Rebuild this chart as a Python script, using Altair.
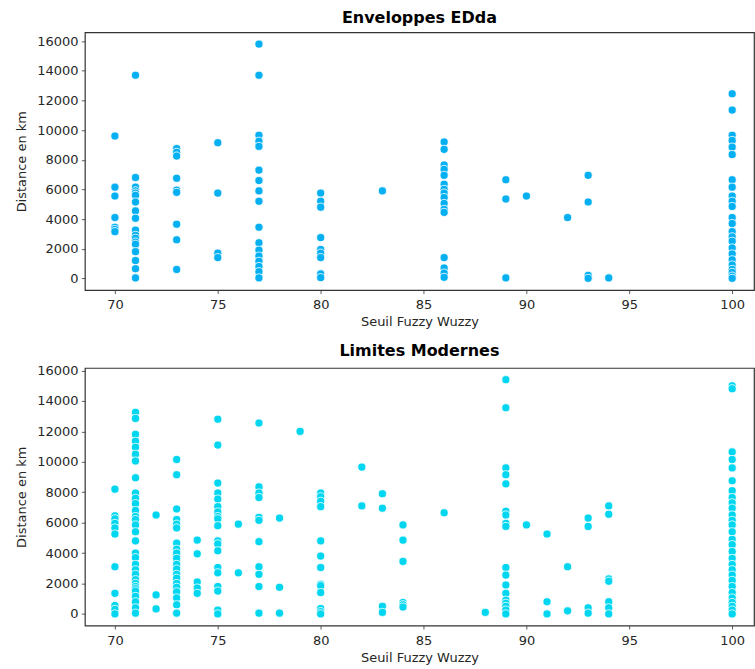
import altair as alt
import pandas as pd

FONT = "DejaVu Sans"
TEXT = "#262626"

# ---- Enveloppes EDda : distances (km) per Fuzzy Wuzzy threshold ----
edda_70 = [9600, 6150, 5550, 4100, 3450, 3300, 3150]
edda_71 = [13700, 6800, 6150, 5900, 5750, 5600, 5150, 4550, 4050, 3250, 2900, 2700,
           2450, 2300, 1800, 1200, 650, 30]
edda_73 = [8750, 8500, 8250, 6750, 5950, 5800, 3650, 2600, 600]
edda_75 = [9150, 5750, 1700, 1400]
edda_77 = [15800, 13700, 9650, 9250, 8900, 7300, 6600, 5900, 5200, 3450, 2400, 1900,
           1500, 1150, 800, 450, 30]
edda_80 = [5750, 5200, 4800, 2750, 1950, 1700, 1400, 300, 50]
edda_83 = [5900]
edda_86 = [9200, 8700, 7650, 7350, 6950, 6350, 6000, 5750, 5450, 5050, 4650, 4450,
           1400, 700, 350, 70]
edda_89 = [6650, 5350, 30]
edda_90 = [5550]
edda_92 = [4100]
edda_93 = [6950, 5150, 200, 0]
edda_94 = [30]
edda_100 = [12450, 11350, 9650, 9300, 8850, 8350, 6650, 6150, 5550, 5200, 4850, 4100,
            3700, 3150, 2800, 2500, 2050, 1650, 1250, 900, 600, 400, 150, 0]

# ---- Limites Modernes ----
mod_70 = [8200, 6450, 6250, 5950, 5650, 5250, 3100, 1350, 550, 300, 0]
mod_71 = [13250, 12850, 11800, 11350, 10950, 10500, 10050, 8950, 7950, 7600, 7250,
          6800, 6400, 6200, 5850, 5400, 4800, 4000, 3700, 3250, 2900, 2600, 2250,
          2000, 1800, 1650, 1500, 1150, 800, 400, 50]
mod_72 = [6500, 1250, 330]
mod_73 = [10150, 9150, 6900, 6200, 5900, 5650, 4650, 4250, 4000, 3650, 3250, 2950,
          2600, 2350, 2000, 1750, 1450, 1050, 600, 50]
mod_74 = [4850, 3950, 2100, 1700, 1350]
mod_75 = [12800, 11100, 8600, 7950, 7550, 7050, 6700, 6400, 6250, 5800, 4800, 4600,
          4150, 3050, 2700, 1800, 1500, 250, 0]
mod_76 = [5900, 2700]
mod_77 = [12550, 8350, 7950, 7650, 6350, 6150, 4750, 3100, 2600, 1800, 50]
mod_78 = [6300, 1750, 50]
mod_79 = [12000]
mod_80 = [7950, 7700, 7400, 7050, 4800, 3800, 3050, 1950, 1850, 1400, 350, 150, 0]
mod_82 = [9650, 7100]
mod_83 = [7900, 6950, 500, 100]
mod_84 = [5850, 4850, 3450, 750, 600, 450]
mod_86 = [6650]
mod_88 = [100]
mod_89 = [15400, 13550, 9600, 9150, 8550, 6750, 6500, 5950, 5750, 3050, 2550, 1900,
          1350, 900, 700, 500, 250, 0]
mod_90 = [5850]
mod_91 = [5250, 800, 0]
mod_92 = [3100, 200]
mod_93 = [6300, 5750, 400, 50]
mod_94 = [7100, 6550, 2300, 2150, 800, 400, 0]
mod_100 = [15000, 14800, 10650, 10150, 9600, 8750, 8100, 7650, 7300, 6950, 6500, 6150,
           5850, 5400, 4900, 4550, 4100, 3650, 3250, 2900, 2550, 2200, 1800, 1400,
           1050, 750, 500, 250, 0]

x_ticks = [70, 75, 80, 85, 90, 95, 100]
y_ticks = [0, 2000, 4000, 6000, 8000, 10000, 12000, 14000, 16000]

edda_cols = {70: edda_70, 71: edda_71, 73: edda_73, 75: edda_75, 77: edda_77,
             80: edda_80, 83: edda_83, 86: edda_86, 89: edda_89, 90: edda_90,
             92: edda_92, 93: edda_93, 94: edda_94, 100: edda_100}
mod_cols = {70: mod_70, 71: mod_71, 72: mod_72, 73: mod_73, 74: mod_74, 75: mod_75,
            76: mod_76, 77: mod_77, 78: mod_78, 79: mod_79, 80: mod_80, 82: mod_82,
            83: mod_83, 84: mod_84, 86: mod_86, 88: mod_88, 89: mod_89, 90: mod_90,
            91: mod_91, 92: mod_92, 93: mod_93, 94: mod_94, 100: mod_100}


def to_df(cols):
    rows = [{"seuil": k, "distance": v} for k, vals in cols.items() for v in vals]
    return pd.DataFrame(rows)


def panel(df, title, color, ydom):
    return alt.Chart(df).mark_circle(
        size=66, color=color, opacity=1, stroke="white", strokeWidth=0.8
    ).encode(
        x=alt.X("seuil:Q",
                scale=alt.Scale(domain=[68.54, 101.06], nice=False, zero=False),
                axis=alt.Axis(values=x_ticks, title="Seuil Fuzzy Wuzzy", grid=False,
                              format="d", labelPadding=5, titlePadding=4)),
        y=alt.Y("distance:Q",
                scale=alt.Scale(domain=ydom, nice=False, zero=False),
                axis=alt.Axis(values=y_ticks, title="Distance en km", grid=False,
                              format="d", titlePadding=8)),
    ).properties(
        width=670, height=258,
        title=alt.TitleParams(title, font=FONT, fontSize=16, fontWeight="bold",
                              color="black", offset=6, anchor="middle"),
    )


top = panel(to_df(edda_cols), "Enveloppes EDda", "#05b0f2", [-790, 16590])
bottom = panel(to_df(mod_cols), "Limites Modernes", "#00d6ef", [-770, 16170])

chart = alt.vconcat(top, bottom, spacing=11).properties(
    padding={"left": 15, "top": 9, "right": 0, "bottom": 0},
    background="white",
).configure_view(
    stroke="#333333", strokeWidth=1.2
).configure_axis(
    domain=False, ticks=True, tickColor="#333333", tickSize=3.5, tickWidth=0.8,
    labelFont=FONT, labelFontSize=13, labelColor=TEXT, labelPadding=3.5,
    titleFont=FONT, titleFontSize=13, titleFontWeight="normal", titleColor=TEXT,
)

chart.save("out.html", embed_options={"renderer": "svg", "actions": False})
